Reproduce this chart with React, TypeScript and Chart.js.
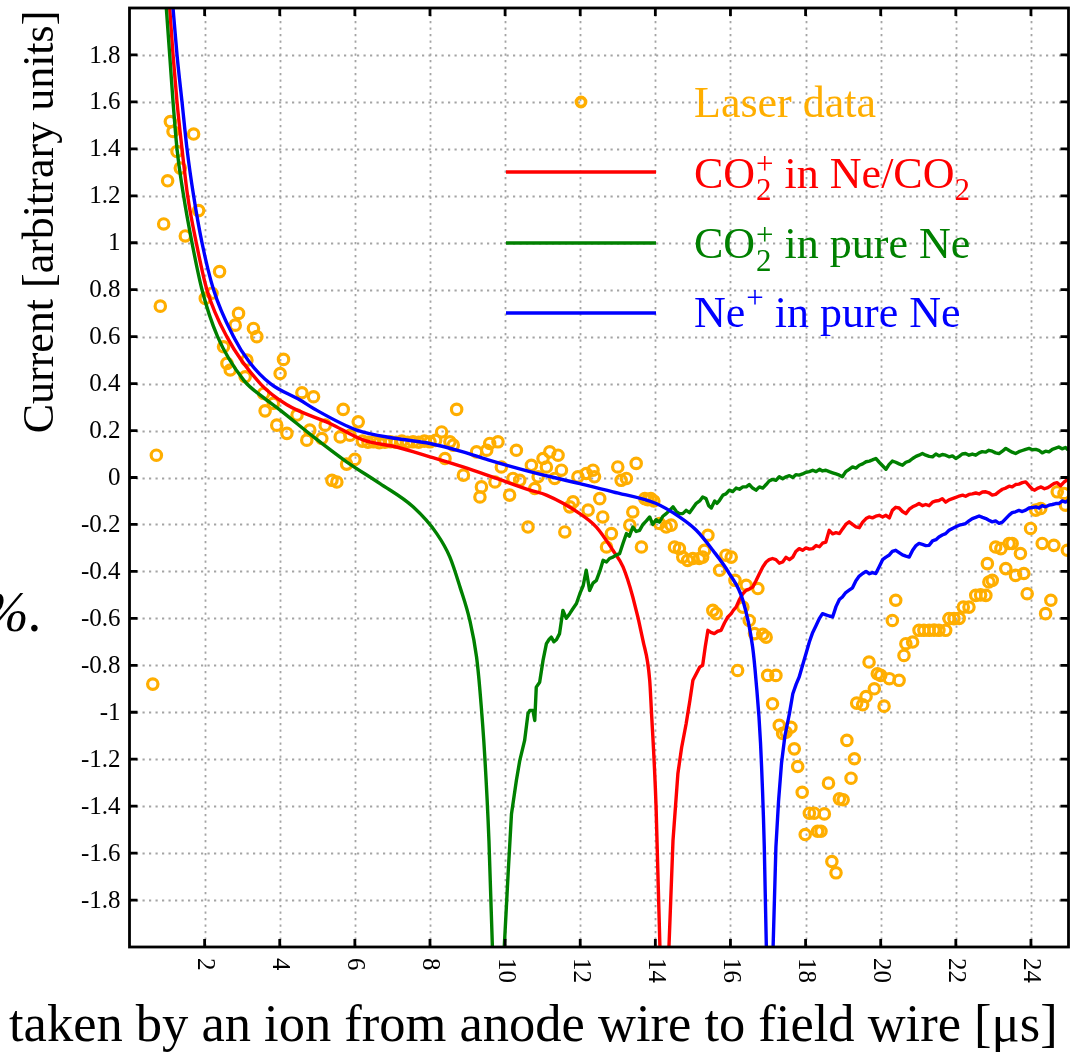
import React, { useEffect, useRef } from 'react';
import { Chart, registerables } from 'chart.js';

Chart.register(...registerables);

// ---- axes ----
const X_MIN = 0;
const X_MAX = 25;
const Y_MIN = -2;
const Y_MAX = 2;
const xTickValues = [2, 4, 6, 8, 10, 12, 14, 16, 18, 20, 22, 24];
const xTickLabels = ['2', '4', '6', '8', '10', '12', '14', '16', '18', '20', '22', '24'];
const yTickValues = [-1.8, -1.6, -1.4, -1.2, -1, -0.8, -0.6, -0.4, -0.2, 0, 0.2, 0.4, 0.6, 0.8, 1, 1.2, 1.4, 1.6, 1.8];
const yTickLabels = ['-1.8', '-1.6', '-1.4', '-1.2', '-1', '-0.8', '-0.6', '-0.4', '-0.2', '0', '0.2', '0.4', '0.6', '0.8', '1', '1.2', '1.4', '1.6', '1.8'];

const xTitle = 'taken by an ion from anode wire to field wire [μs]';
const yTitle = 'Current [arbitrary units]';

// ---- series: [time (µs), current] ----
const laserData: [number, number][] = [
  [0.62, -0.88], [0.715, 0.095], [0.82, 0.73], [0.91, 1.08], [1.015, 1.264], [1.088, 1.516], [1.159, 1.474],
  [1.265, 1.389], [1.353, 1.318], [1.486, 1.029], [1.707, 1.463], [1.84, 1.137], [2.018, 0.763], [2.196, 0.785],
  [2.398, 0.877], [2.504, 0.557], [2.594, 0.486], [2.682, 0.458], [2.815, 0.649], [2.903, 0.699], [3.08, 0.429],
  [3.126, 0.5], [3.3, 0.635], [3.39, 0.6], [3.57, 0.358], [3.61, 0.284], [3.83, 0.316], [3.92, 0.223],
  [4.01, 0.443], [4.1, 0.503], [4.19, 0.188], [4.46, 0.266], [4.59, 0.361], [4.72, 0.159], [4.8, 0.202],
  [4.9, 0.344], [5.12, 0.166], [5.21, 0.223], [5.39, -0.012], [5.52, -0.019], [5.61, 0.173], [5.69, 0.29],
  [5.78, 0.057], [5.87, 0.18], [6.0, 0.077], [6.09, 0.237],
  [6.2, 0.155], [6.35, 0.15], [6.5, 0.152], [6.65, 0.148], [6.8, 0.15], [6.95, 0.152], [7.1, 0.15],
  [7.25, 0.155], [7.4, 0.15], [7.55, 0.152], [7.7, 0.15], [7.85, 0.155], [8.0, 0.152], [8.15, 0.158],
  [8.31, 0.194], [8.4, 0.081], [8.53, 0.152], [8.62, 0.138], [8.71, 0.29], [8.89, 0.01], [9.24, 0.109],
  [9.33, -0.083], [9.37, -0.04], [9.51, 0.116], [9.59, 0.145], [9.73, -0.019], [9.81, 0.152], [9.9, 0.045],
  [10.12, -0.075], [10.21, -0.004], [10.3, 0.116], [10.39, -0.012], [10.61, -0.211], [10.7, 0.052],
  [10.79, -0.047], [10.88, 0.003], [11.01, 0.081], [11.1, 0.045], [11.19, 0.109], [11.32, -0.004],
  [11.41, 0.095], [11.5, 0.031], [11.59, -0.232], [11.72, -0.125], [11.81, -0.104], [11.94, 0.003],
  [12.16, 0.017], [12.21, -0.139], [12.34, 0.031], [12.38, 0.003], [12.52, -0.09], [12.6, -0.168],
  [12.7, -0.296], [12.83, -0.239], [13.0, 0.045], [13.09, -0.012], [13.23, -0.004], [13.32, -0.203],
  [13.4, -0.147], [13.49, 0.06], [13.63, -0.296], [13.72, -0.09], [13.8, -0.095], [13.88, -0.09],
  [13.96, -0.1], [14.11, -0.196], [14.29, -0.211], [14.42, -0.203], [14.51, -0.296], [14.64, -0.303],
  [14.73, -0.339], [14.86, -0.353], [15.0, -0.345], [15.17, -0.345], [15.26, -0.339], [15.31, -0.31],
  [15.4, -0.246], [15.53, -0.566], [15.62, -0.58], [15.71, -0.395], [15.88, -0.331], [16.02, -0.339],
  [16.12, -0.438], [16.19, -0.822], [16.33, -0.552], [16.42, -0.459], [16.5, -0.609], [16.64, -0.665],
  [16.73, -0.473], [16.86, -0.668], [16.95, -0.68], [16.99, -0.843], [17.12, -0.964], [17.21, -0.843],
  [17.3, -1.056], [17.39, -1.09], [17.48, -1.085], [17.61, -1.064], [17.7, -1.156], [17.79, -1.231],
  [17.91, -1.341], [17.99, -1.521], [18.1, -1.43], [18.23, -1.43], [18.32, -1.507], [18.41, -1.507],
  [18.5, -1.433], [18.61, -1.302], [18.7, -1.636], [18.81, -1.684], [18.9, -1.369], [19.0, -1.373],
  [19.1, -1.12], [19.21, -1.281], [19.3, -1.198], [19.36, -0.961], [19.52, -0.968], [19.61, -0.933],
  [19.69, -0.786], [19.83, -0.9], [19.91, -0.836], [20.0, -0.843], [20.09, -0.974], [20.23, -0.857],
  [20.31, -0.609], [20.4, -0.523], [20.49, -0.864], [20.62, -0.758], [20.67, -0.708], [20.85, -0.701],
  [21.02, -0.651], [21.15, -0.651], [21.29, -0.651], [21.42, -0.65], [21.55, -0.651], [21.73, -0.651],
  [21.82, -0.601], [21.95, -0.601], [22.09, -0.6], [22.2, -0.552], [22.35, -0.552], [22.53, -0.502],
  [22.66, -0.5], [22.8, -0.502], [22.84, -0.367], [22.88, -0.445], [22.97, -0.438], [23.06, -0.296],
  [23.2, -0.303], [23.33, -0.388], [23.42, -0.281], [23.5, -0.281], [23.59, -0.417], [23.72, -0.324],
  [23.81, -0.409], [23.9, -0.495], [23.99, -0.217], [24.13, -0.139], [24.26, -0.132], [24.3, -0.281],
  [24.39, -0.58], [24.53, -0.523], [24.61, -0.289], [24.7, -0.061], [24.88, -0.068], [24.92, -0.118],
  [24.97, -0.31],
];

// CO2+ in Ne/CO2 (red): smooth decay up to the pole, then the noisy recovery
const co2InNeCo2Decay: [number, number][] = [
  [1.0, 2.16], [1.07, 2.0], [1.159, 1.8], [1.265, 1.6], [1.398, 1.4], [1.548, 1.2], [1.778, 1.0], [2.06, 0.8],
  [2.59, 0.6], [3.48, 0.4], [4.19, 0.31], [5.34, 0.23], [6.23, 0.159], [7.11, 0.13], [8.0, 0.088],
  [8.88, 0.045], [9.77, -0.004], [10.66, -0.054], [11.1, -0.075], [11.99, -0.154], [12.43, -0.211],
  [12.87, -0.31], [13.14, -0.381], [13.4, -0.509], [13.67, -0.694], [13.85, -0.864], [13.89, -0.978],
  [14.02, -1.405], [14.22, -2.6],
];
const co2InNeCo2Recovery: [number, number][] = [
  [14.22, -2.6], [14.47, -1.547], [14.6, -1.262], [14.7, -1.15], [14.82, -1.049], [14.92, -0.95], [15.0, -0.864],
  [15.09, -0.836], [15.18, -0.808], [15.26, -0.8], [15.33, -0.72], [15.4, -0.651], [15.48, -0.66], [15.57, -0.665],
  [15.66, -0.655], [15.75, -0.651], [15.84, -0.62], [15.93, -0.594], [16.02, -0.58], [16.08, -0.565], [16.15, -0.552],
  [16.24, -0.52], [16.33, -0.495], [16.42, -0.48], [16.5, -0.475], [16.59, -0.467], [16.68, -0.44], [16.77, -0.41],
  [16.86, -0.381], [16.95, -0.36], [17.03, -0.35], [17.12, -0.345], [17.21, -0.35], [17.3, -0.365], [17.39, -0.36],
  [17.48, -0.34], [17.57, -0.35], [17.66, -0.339], [17.74, -0.315], [17.83, -0.303], [17.92, -0.31], [18.01, -0.3],
  [18.1, -0.305], [18.19, -0.303], [18.28, -0.29], [18.37, -0.295], [18.45, -0.28], [18.54, -0.275], [18.63, -0.225],
  [18.72, -0.24], [18.81, -0.235], [18.9, -0.239], [18.98, -0.22], [19.07, -0.2], [19.16, -0.189], [19.25, -0.2],
  [19.34, -0.21], [19.43, -0.214], [19.52, -0.19], [19.61, -0.175], [19.69, -0.168], [19.78, -0.172], [19.87, -0.165],
  [19.96, -0.161], [20.05, -0.168], [20.14, -0.161], [20.23, -0.172], [20.31, -0.14], [20.4, -0.127], [20.49, -0.13],
  [20.58, -0.145], [20.67, -0.154], [20.76, -0.135], [20.85, -0.125], [20.94, -0.118], [21.02, -0.111], [21.11, -0.12],
  [21.2, -0.115], [21.29, -0.12], [21.38, -0.105], [21.47, -0.1], [21.55, -0.098], [21.64, -0.09], [21.73, -0.105],
  [21.82, -0.095], [21.91, -0.09], [22.0, -0.085], [22.09, -0.079], [22.18, -0.075], [22.26, -0.08], [22.35, -0.072],
  [22.44, -0.07], [22.53, -0.066], [22.62, -0.07], [22.71, -0.062], [22.8, -0.061], [22.88, -0.065], [22.97, -0.075],
  [23.06, -0.072], [23.15, -0.06], [23.24, -0.05], [23.33, -0.045], [23.42, -0.037], [23.5, -0.04], [23.59, -0.03],
  [23.68, -0.028], [23.77, -0.022], [23.86, -0.019], [23.95, -0.035], [24.04, -0.05], [24.1, -0.054], [24.19, -0.045],
  [24.27, -0.04], [24.36, -0.048], [24.45, -0.043], [24.53, -0.035], [24.62, -0.025], [24.7, -0.022], [24.79, -0.035],
  [24.88, -0.02], [24.96, -0.01], [25.0, 0.0],
];

// CO2+ in pure Ne (green)
const co2InPureNeDecay: [number, number][] = [
  [0.91, 2.16], [0.98, 2.0], [1.07, 1.8], [1.159, 1.6], [1.265, 1.4], [1.44, 1.2], [1.664, 1.0], [1.93, 0.8],
  [2.345, 0.6], [3.04, 0.415], [3.57, 0.34], [4.01, 0.287], [4.9, 0.173], [5.78, 0.067], [6.67, -0.026],
  [7.55, -0.125], [8.18, -0.239], [8.53, -0.339], [8.8, -0.467], [9.06, -0.609], [9.24, -0.765],
  [9.33, -0.907], [9.46, -1.191], [9.57, -1.547], [9.78, -2.6],
];
const co2InPureNeRecovery: [number, number][] = [
  [9.78, -2.6], [10.08, -1.689], [10.17, -1.433], [10.3, -1.291], [10.39, -1.206], [10.52, -1.12], [10.61, -1.006],
  [10.66, -0.992], [10.74, -0.992], [10.79, -1.035], [10.83, -0.893], [10.92, -0.872], [11.01, -0.779], [11.1, -0.708],
  [11.17, -0.69], [11.23, -0.68], [11.3, -0.7], [11.37, -0.69], [11.45, -0.665], [11.54, -0.566], [11.63, -0.6],
  [11.72, -0.58], [11.8, -0.56], [11.9, -0.537], [11.99, -0.495], [12.08, -0.46], [12.16, -0.395], [12.25, -0.481],
  [12.34, -0.45], [12.43, -0.438], [12.52, -0.4], [12.61, -0.353], [12.7, -0.36], [12.78, -0.345], [12.87, -0.339],
  [12.96, -0.33], [13.05, -0.324], [13.14, -0.28], [13.23, -0.239], [13.31, -0.25], [13.4, -0.211], [13.49, -0.23],
  [13.58, -0.225], [13.67, -0.2], [13.76, -0.185], [13.85, -0.168], [13.93, -0.2], [14.02, -0.18], [14.11, -0.19],
  [14.2, -0.165], [14.29, -0.154], [14.38, -0.14], [14.47, -0.125], [14.56, -0.145], [14.64, -0.154], [14.73, -0.154],
  [14.82, -0.14], [14.91, -0.15], [15.0, -0.13], [15.09, -0.11], [15.18, -0.1], [15.26, -0.083], [15.35, -0.09],
  [15.42, -0.12], [15.49, -0.13], [15.58, -0.1], [15.64, -0.11], [15.71, -0.097], [15.8, -0.075], [15.88, -0.07],
  [15.97, -0.054], [16.06, -0.06], [16.15, -0.045], [16.24, -0.05], [16.33, -0.04], [16.42, -0.04], [16.5, -0.03],
  [16.59, -0.045], [16.68, -0.054], [16.77, -0.04], [16.86, -0.045], [16.95, -0.03], [17.03, -0.015], [17.12, -0.008],
  [17.21, -0.012], [17.3, 0.003], [17.39, -0.005], [17.48, 0.003], [17.57, 0.008], [17.66, 0.0], [17.74, 0.012],
  [17.83, 0.01], [17.92, 0.015], [18.01, 0.022], [18.1, 0.025], [18.19, 0.031], [18.28, 0.025], [18.37, 0.035],
  [18.45, 0.028], [18.54, 0.031], [18.63, 0.025], [18.72, 0.02], [18.81, 0.015], [18.9, 0.01], [18.98, 0.003],
  [19.07, 0.025], [19.16, 0.035], [19.25, 0.045], [19.34, 0.04], [19.43, 0.052], [19.52, 0.058], [19.61, 0.067],
  [19.7, 0.07], [19.78, 0.075], [19.87, 0.081], [19.96, 0.065], [20.05, 0.05], [20.14, 0.035], [20.22, 0.055],
  [20.31, 0.07], [20.4, 0.065], [20.49, 0.058], [20.58, 0.052], [20.67, 0.065], [20.76, 0.07], [20.85, 0.081],
  [20.94, 0.09], [21.02, 0.095], [21.11, 0.102], [21.2, 0.095], [21.29, 0.09], [21.38, 0.088], [21.47, 0.1],
  [21.56, 0.092], [21.64, 0.098], [21.73, 0.095], [21.82, 0.088], [21.91, 0.092], [22.0, 0.081], [22.09, 0.09],
  [22.17, 0.1], [22.26, 0.102], [22.35, 0.095], [22.44, 0.1], [22.53, 0.095], [22.62, 0.105], [22.7, 0.11],
  [22.79, 0.108], [22.88, 0.116], [22.97, 0.112], [23.06, 0.105], [23.15, 0.102], [23.24, 0.112], [23.33, 0.124],
  [23.42, 0.115], [23.5, 0.108], [23.59, 0.102], [23.68, 0.11], [23.77, 0.115], [23.86, 0.12], [23.95, 0.124],
  [24.04, 0.118], [24.13, 0.12], [24.21, 0.116], [24.3, 0.105], [24.39, 0.112], [24.48, 0.109], [24.57, 0.12],
  [24.66, 0.125], [24.74, 0.13], [24.83, 0.122], [24.92, 0.128], [25.0, 0.116],
];

// Ne+ in pure Ne (blue)
const neInPureNeDecay: [number, number][] = [
  [1.08, 2.16], [1.159, 2.0], [1.265, 1.8], [1.398, 1.6], [1.531, 1.4], [1.707, 1.2], [1.93, 1.0], [2.238, 0.8],
  [2.77, 0.6], [3.2, 0.49], [3.75, 0.4], [4.54, 0.33], [4.9, 0.294], [6.05, 0.202], [7.11, 0.166],
  [8.0, 0.145], [8.88, 0.109], [9.55, 0.075], [10.66, 0.025], [11.99, -0.026], [12.87, -0.061],
  [14.02, -0.111], [14.64, -0.168], [15.09, -0.225], [15.53, -0.31], [15.97, -0.409], [16.33, -0.523],
  [16.59, -0.722], [16.68, -0.864], [16.8, -1.13], [16.9, -1.57], [17.03, -2.6],
];
const neInPureNeRecovery: [number, number][] = [
  [17.03, -2.6], [17.21, -1.575], [17.28, -1.38], [17.36, -1.216], [17.45, -1.1], [17.57, -1.006], [17.66, -0.921],
  [17.75, -0.88], [17.83, -0.85], [17.92, -0.8], [18.01, -0.751], [18.1, -0.701], [18.19, -0.66], [18.28, -0.63],
  [18.37, -0.6], [18.45, -0.58], [18.54, -0.585], [18.63, -0.59], [18.72, -0.594], [18.81, -0.55], [18.9, -0.52],
  [18.98, -0.509], [19.07, -0.49], [19.16, -0.48], [19.25, -0.47], [19.34, -0.44], [19.43, -0.42], [19.52, -0.409],
  [19.61, -0.4], [19.7, -0.41], [19.78, -0.405], [19.87, -0.409], [19.96, -0.38], [20.05, -0.35], [20.14, -0.339],
  [20.23, -0.33], [20.31, -0.315], [20.4, -0.31], [20.49, -0.32], [20.58, -0.33], [20.67, -0.335], [20.76, -0.339],
  [20.85, -0.31], [20.94, -0.29], [21.02, -0.281], [21.11, -0.285], [21.2, -0.29], [21.29, -0.289], [21.38, -0.27],
  [21.47, -0.265], [21.55, -0.253], [21.64, -0.245], [21.73, -0.239], [21.82, -0.225], [21.91, -0.217], [22.0, -0.21],
  [22.09, -0.203], [22.18, -0.2], [22.26, -0.196], [22.35, -0.185], [22.44, -0.175], [22.53, -0.17], [22.62, -0.164],
  [22.71, -0.17], [22.8, -0.175], [22.88, -0.182], [22.97, -0.189], [23.06, -0.185], [23.15, -0.195], [23.24, -0.19],
  [23.33, -0.175], [23.42, -0.16], [23.5, -0.15], [23.59, -0.146], [23.68, -0.14], [23.77, -0.145], [23.86, -0.139],
  [23.95, -0.13], [24.04, -0.128], [24.13, -0.125], [24.21, -0.13], [24.3, -0.12], [24.39, -0.125], [24.48, -0.118],
  [24.57, -0.115], [24.66, -0.111], [24.75, -0.111], [24.83, -0.1], [24.92, -0.105], [25.0, -0.097],
];

const ORANGE = '#ffae00';
const RED = '#ff0000';
const GREEN = '#008000';
const BLUE = '#0000ff';
const FONT = '"Liberation Serif", "Times New Roman", serif';

const toXY = (arr: [number, number][]) => arr.map(([x, y]) => ({ x, y }));

const decorPlugin = {
  id: 'decor',
  beforeDatasetsDraw(chart: any) {
    const { ctx, chartArea } = chart;
    const xs = chart.scales.x;
    const ys = chart.scales.y;
    ctx.save();
    ctx.strokeStyle = '#a4a4a4';
    ctx.lineWidth = 1.8;
    ctx.setLineDash([2.2, 4.3]);
    for (const v of xTickValues) {
      const px = Math.round(xs.getPixelForValue(v)) + 0.5;
      ctx.beginPath();
      ctx.moveTo(px, chartArea.top);
      ctx.lineTo(px, chartArea.bottom);
      ctx.stroke();
    }
    for (const v of yTickValues) {
      const py = Math.round(ys.getPixelForValue(v)) + 0.5;
      ctx.beginPath();
      ctx.moveTo(chartArea.left, py);
      ctx.lineTo(chartArea.right, py);
      ctx.stroke();
    }
    ctx.restore();
  },
  afterDatasetsDraw(chart: any) {
    const { ctx, chartArea } = chart;
    const { left, right, top, bottom } = chartArea;
    const xs = chart.scales.x;
    const ys = chart.scales.y;
    ctx.save();
    // frame
    ctx.setLineDash([]);
    ctx.strokeStyle = '#000';
    ctx.lineWidth = 2.8;
    ctx.strokeRect(left, top, right - left, bottom - top);
    // inward ticks
    const TL = 8;
    ctx.beginPath();
    for (const v of yTickValues) {
      const py = ys.getPixelForValue(v);
      ctx.moveTo(left, py); ctx.lineTo(left + TL, py);
      ctx.moveTo(right, py); ctx.lineTo(right - TL, py);
    }
    for (const v of xTickValues) {
      const px = xs.getPixelForValue(v);
      ctx.moveTo(px, bottom); ctx.lineTo(px, bottom - TL);
      ctx.moveTo(px, top); ctx.lineTo(px, top + TL);
    }
    ctx.stroke();

    // tick labels
    ctx.fillStyle = '#000';
    ctx.font = `25px ${FONT}`;
    ctx.textAlign = 'right';
    ctx.textBaseline = 'middle';
    yTickValues.forEach((v, i) => {
      ctx.fillText(yTickLabels[i], left - 9, ys.getPixelForValue(v) + 1);
    });
    xTickValues.forEach((v, i) => {
      const px = xs.getPixelForValue(v);
      ctx.save();
      ctx.translate(px, bottom + 11);
      ctx.rotate(Math.PI / 2);
      ctx.textAlign = 'left';
      ctx.textBaseline = 'middle';
      ctx.fillText(xTickLabels[i], 0, 0);
      ctx.restore();
    });

    // axis titles
    ctx.font = `52.5px ${FONT}`;
    ctx.textAlign = 'left';
    ctx.textBaseline = 'alphabetic';
    ctx.fillText(xTitle, 9, 1041);
    ctx.save();
    ctx.font = `44px ${FONT}`;
    ctx.translate(53, 222);
    ctx.rotate(-Math.PI / 2);
    ctx.textAlign = 'center';
    ctx.fillText(yTitle, 0, 0);
    ctx.restore();

    // stray text fragment at left edge
    ctx.font = `italic 56px ${FONT}`;
    ctx.textAlign = 'left';
    ctx.fillText('%.', -18, 631);

    // legend
    const lx1 = 506, lx2 = 656, tx = 694;
    const big = `44px ${FONT}`;
    const small = `31px ${FONT}`;
    // row 1: laser
    ctx.strokeStyle = ORANGE;
    ctx.lineWidth = 3.6;
    ctx.beginPath();
    ctx.arc(581, 102, 4.6, 0, Math.PI * 2);
    ctx.stroke();
    ctx.fillStyle = ORANGE;
    ctx.font = big;
    ctx.fillText('Laser data', tx, 117);

    const lineRow = (y: number, color: string) => {
      ctx.strokeStyle = color;
      ctx.lineWidth = 3.4;
      ctx.beginPath();
      ctx.moveTo(lx1, y);
      ctx.lineTo(lx2, y);
      ctx.stroke();
    };
    const co2Run = (base: number, supBase: number, subBase: number, rest: string, trailingSub: boolean) => {
      ctx.font = big;
      ctx.fillText('CO', tx, base);
      let x = tx + ctx.measureText('CO').width + 1;
      ctx.font = small;
      ctx.fillText('+', x, supBase);
      ctx.fillText('2', x, subBase);
      x += Math.max(ctx.measureText('+').width, ctx.measureText('2').width);
      ctx.font = big;
      ctx.fillText(rest, x, base);
      if (trailingSub) {
        x += ctx.measureText(rest).width;
        ctx.font = small;
        ctx.fillText('2', x, subBase);
      }
    };
    // row 2
    lineRow(172, RED);
    ctx.fillStyle = RED;
    co2Run(188, 174, 200, ' in Ne/CO', true);
    // row 3
    lineRow(243, GREEN);
    ctx.fillStyle = GREEN;
    co2Run(258, 245, 271, ' in pure Ne', false);
    // row 4
    lineRow(313, BLUE);
    ctx.fillStyle = BLUE;
    ctx.font = big;
    ctx.fillText('Ne', tx, 327);
    let x4 = tx + ctx.measureText('Ne').width + 1;
    ctx.font = small;
    ctx.fillText('+', x4, 308);
    x4 += ctx.measureText('+').width;
    ctx.font = big;
    ctx.fillText(' in pure Ne', x4, 327);

    ctx.restore();
  },
};

export default function App() {
  const ref = useRef<HTMLCanvasElement | null>(null);
  useEffect(() => {
    if (!ref.current) return;
    const lineDs = (label: string, data: [number, number][], color: string, order: number, smooth: boolean) => ({
      label,
      data: toXY(data),
      showLine: true,
      borderColor: color,
      backgroundColor: color,
      borderWidth: 3.4,
      pointRadius: 0,
      pointHoverRadius: 0,
      tension: 0,
      cubicInterpolationMode: (smooth ? 'monotone' : 'default') as any,
      borderJoinStyle: 'round' as const,
      fill: false,
      order,
    });
    const chart = new Chart(ref.current, {
      type: 'scatter',
      data: {
        datasets: [
          {
            label: 'Laser data',
            data: toXY(laserData),
            showLine: false,
            pointStyle: 'circle',
            pointRadius: 5.2,
            borderWidth: 3.2,
            pointBorderWidth: 3.2,
            borderColor: ORANGE,
            pointBorderColor: ORANGE,
            backgroundColor: 'rgba(0,0,0,0)',
            pointBackgroundColor: 'rgba(0,0,0,0)',
            order: 4,
          } as any,
          lineDs('CO2+ in Ne/CO2', co2InNeCo2Decay, RED, 3, true),
          lineDs('CO2+ in Ne/CO2 (recovery)', co2InNeCo2Recovery, RED, 3, false),
          lineDs('CO2+ in pure Ne', co2InPureNeDecay, GREEN, 2, true),
          lineDs('CO2+ in pure Ne (recovery)', co2InPureNeRecovery, GREEN, 2, false),
          lineDs('Ne+ in pure Ne', neInPureNeDecay, BLUE, 1, true),
          lineDs('Ne+ in pure Ne (recovery)', neInPureNeRecovery, BLUE, 1, false),
        ],
      },
      options: {
        responsive: false,
        animation: false,
        devicePixelRatio: 1,
        layout: { autoPadding: false, padding: { left: 129.5, top: 8, right: 1.5, bottom: 105 } },
        plugins: { legend: { display: false }, tooltip: { enabled: false } },
        events: [],
        scales: {
          x: {
            type: 'linear',
            min: X_MIN,
            max: X_MAX,
            ticks: { display: false, stepSize: 2 },
            grid: { display: false, drawTicks: false },
            border: { display: false },
          },
          y: {
            type: 'linear',
            min: Y_MIN,
            max: Y_MAX,
            ticks: { display: false, stepSize: 0.2 },
            grid: { display: false, drawTicks: false },
            border: { display: false },
          },
        },
      },
      plugins: [decorPlugin],
    });
    return () => chart.destroy();
  }, []);
  return (
    <div style={{ position: 'absolute', left: 0, top: 0, width: 1070, height: 1052, background: '#fff', overflow: 'hidden' }}>
      <canvas ref={ref} width={1070} height={1052} style={{ display: 'block', width: 1070, height: 1052 }} />
    </div>
  );
}
